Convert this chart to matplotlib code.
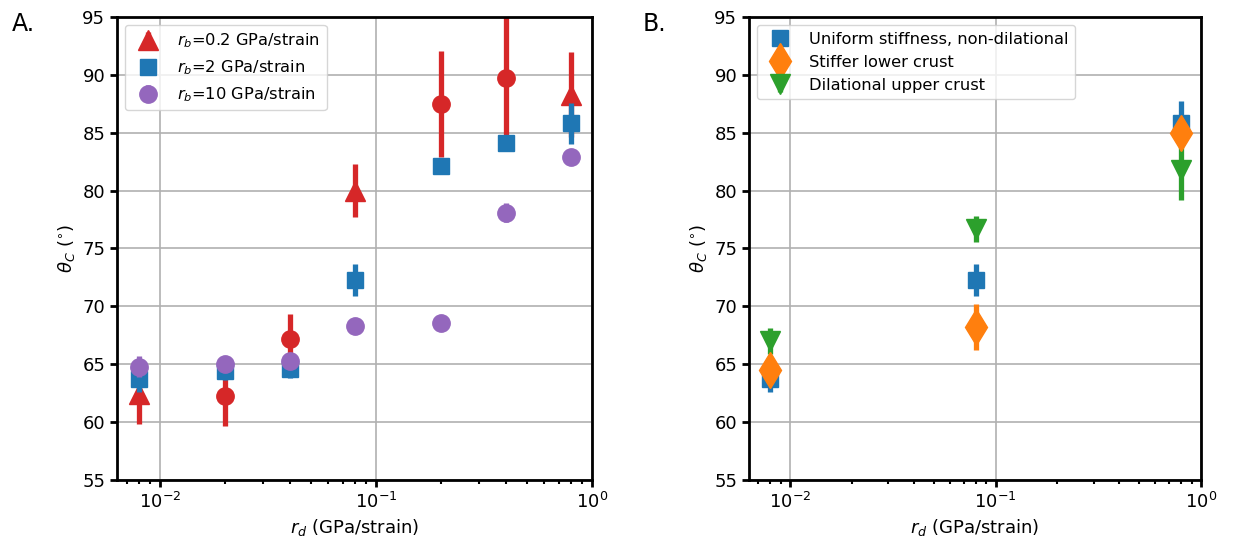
import numpy as np
import matplotlib
matplotlib.use('Agg')
import matplotlib.pyplot as plt

# rd values (GPa/strain) and critical angle theta_C (deg) +/- error
rd = [0.008, 0.02, 0.04, 0.08, 0.2, 0.4, 0.8]
rd_tri = [0.008, 0.08, 0.8]  # runs plotted with triangles for rb=0.2

theta_rb02 = [62.4, 62.3, 67.2, 80.0, 87.5, 89.7, 88.3]
err_rb02 = [2.6, 2.6, 2.1, 2.3, 4.6, 5.8, 3.7]
theta_rb2 = [63.7, 64.4, 64.6, 72.3, 82.1, 84.1, 85.8]
err_rb2 = [1.1, 0.8, 0.8, 1.4, 0.0, 0.0, 1.8]
theta_rb10 = [64.8, 65.0, 65.3, 68.3, 68.6, 78.1, 82.9]
err_rb10 = [0.9, 0.3, 0.5, 0.6, 0.0, 0.8, 0.0]

# panel B
rd_b = [0.008, 0.08, 0.8]
theta_uniform = [63.7, 72.3, 85.8]
err_uniform = [1.1, 1.4, 1.9]
theta_stiff = [64.5, 68.2, 85.0]
err_stiff = [1.2, 2.0, 1.0]
theta_dil = [67.0, 76.7, 81.8]
err_dil = [1.1, 1.1, 2.6]

plt.rcParams['font.size'] = 13
plt.rcParams['legend.fontsize'] = 11.7
plt.rcParams['axes.linewidth'] = 2
plt.rcParams['xtick.major.width'] = 2
plt.rcParams['ytick.major.width'] = 2
plt.rcParams['xtick.minor.width'] = 1.5
plt.rcParams['xtick.major.size'] = 5
plt.rcParams['ytick.major.size'] = 5
plt.rcParams['xtick.minor.size'] = 3
plt.rcParams['grid.linewidth'] = 1.2

fig = plt.figure(figsize=(12.5, 5.39), dpi=100)
W, H = 1250., 539.
axA = fig.add_axes([117 / W, 59 / H, 475 / W, 463 / H])
axB = fig.add_axes([749 / W, 59 / H, 452 / W, 463 / H])

eb = dict(linestyle='none', elinewidth=3.8, capsize=0)

# --- panel A ---
rd_a = np.array(rd)
tri = np.isin(rd_a, rd_tri)
t02 = np.array(theta_rb02)
e02 = np.array(err_rb02)
axA.errorbar(rd_a[tri], t02[tri], yerr=e02[tri], fmt='^', color='C3', ms=15,
             label=r'$r_b$=0.2 GPa/strain', zorder=2, **eb)
axA.errorbar(rd_a[~tri], t02[~tri], yerr=e02[~tri], fmt='o', color='C3', ms=12.5,
             zorder=2, **eb)
axA.errorbar(rd, theta_rb2, yerr=err_rb2, fmt='s', color='C0', ms=11.5,
             label=r'$r_b$=2 GPa/strain', zorder=3, **eb)
axA.errorbar(rd, theta_rb10, yerr=err_rb10, fmt='o', color='C4', ms=12.5,
             label=r'$r_b$=10 GPa/strain', zorder=4, **eb)
axA.legend(loc='upper left')

# --- panel B ---
axB.errorbar(rd_b, theta_uniform, yerr=err_uniform, fmt='s', color='C0', ms=11.5,
             label='Uniform stiffness, non-dilational', zorder=2, **eb)
axB.errorbar(rd_b, theta_stiff, yerr=err_stiff, fmt='d', color='C1', ms=18,
             label='Stiffer lower crust', zorder=4, **eb)
axB.errorbar(rd_b, theta_dil, yerr=err_dil, fmt='v', color='C2', ms=15,
             label='Dilational upper crust', zorder=3, **eb)
axB.legend(loc='upper left')

for ax in (axA, axB):
    ax.set_xscale('log')
    ax.set_xlim(0.0063, 1.0)
    ax.set_ylim(55, 95)
    ax.set_yticks(np.arange(55, 96, 5))
    ax.grid(True)
    ax.set_axisbelow(True)
    ax.set_xlabel(r'$r_d$ (GPa/strain)')
    ax.set_ylabel(r'$\theta_C$ ($^{\circ}$)')

fig.text(12 / W, 1 - 24 / H, 'A.', fontsize=17, va='center')
fig.text(643 / W, 1 - 24 / H, 'B.', fontsize=17, va='center')

fig.savefig('out.png', dpi=100)
